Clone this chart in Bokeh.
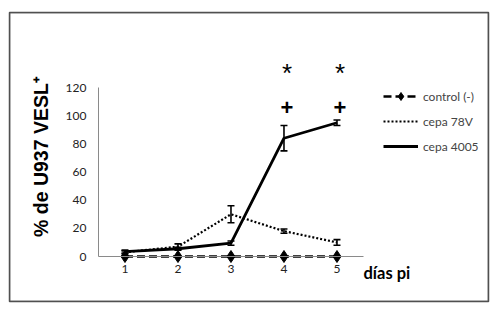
import math
from bokeh.plotting import figure
from bokeh.models import (Range1d, Legend, LegendItem, Whisker, TeeHead, Label,
                          ColumnDataSource, FixedTicker, BoxAnnotation)
from bokeh.core.properties import value
from bokeh.embed import file_html
from bokeh.resources import INLINE

# ---- data ----
days = [1, 2, 3, 4, 5]
control = [0, 0, 0, 0, 0]
cepa_78v = [3, 7, 30, 18, 10]
err_78v = [1, 2, 6, 1.5, 2]
cepa_4005 = [3.5, 5.5, 9.5, 84, 95]
err_4005 = [1, 1, 1.5, 9, 2]
sig_days = [4, 5]
star_y = [133.5, 133.5]
plus_y = [105.5, 105.5]
y_ticks = [0, 20, 40, 60, 80, 100, 120]

# frame covers the whole boxed area; axes are fixed inside it
p = figure(width=490, height=303, output_backend="svg", toolbar_location=None,
           x_range=Range1d(-1.179, 7.859), y_range=Range1d(-31.96, 173.3),
           min_border_left=9, min_border_right=2, min_border_top=12,
           min_border_bottom=2)
p.outline_line_color = "#505050"
p.outline_line_width = 1.5
p.xgrid.visible = False
p.ygrid.visible = False
p.add_layout(BoxAnnotation(fill_alpha=0, line_color="#505050", line_width=1.5,
                           line_alpha=1))

lbl_font = "Lato"
for ax in (p.xaxis, p.yaxis):
    ax.axis_line_color = "#8a8a8a"
    ax.axis_line_width = 1
    ax.major_tick_line_color = None
    ax.minor_tick_line_color = None
    ax.major_tick_out = 0
    ax.major_tick_in = 0
    ax.major_label_text_font = lbl_font
    ax.major_label_text_font_size = "12px"
    ax.major_label_text_color = "#222222"

p.xaxis.bounds = (0.5, 5.5)
p.xaxis.fixed_location = 0
p.xaxis.ticker = FixedTicker(ticks=days)
p.xaxis.major_label_standoff = 8
p.yaxis.bounds = (0, 120)
p.yaxis.fixed_location = 0.5
p.yaxis.ticker = FixedTicker(ticks=y_ticks)
p.yaxis.major_label_standoff = 12

src = ColumnDataSource(dict(
    x=days, control=control, v78=cepa_78v, v4005=cepa_4005,
    v78_lo=[v - e for v, e in zip(cepa_78v, err_78v)],
    v78_hi=[v + e for v, e in zip(cepa_78v, err_78v)],
    v4005_lo=[v - e for v, e in zip(cepa_4005, err_4005)],
    v4005_hi=[v + e for v, e in zip(cepa_4005, err_4005)],
))

r78 = p.line("x", "v78", source=src, line_color="black", line_width=2.2,
             line_dash="2 2")
r4005 = p.line("x", "v4005", source=src, line_color="black", line_width=2.8)
for lo, hi in (("v78_lo", "v78_hi"), ("v4005_lo", "v4005_hi")):
    w = Whisker(base="x", lower=lo, upper=hi, source=src, line_color="black",
                line_width=1.6,
                upper_head=TeeHead(size=7, line_color="black", line_width=1.6),
                lower_head=TeeHead(size=7, line_color="black", line_width=1.6))
    p.add_layout(w)
rc = p.line("x", "control", source=src, line_color="black", line_width=2.4,
            line_dash="8 4")
rcm = p.scatter("x", "control", source=src, marker="diamond", size=12,
                fill_color="black", line_color="black")

p.text(x=sig_days, y=star_y, text=["*", "*"], text_align="center",
       text_baseline="middle", text_font=value("Liberation Sans"),
       text_font_size="26px", text_color="black", x_offset=3, y_offset=4)
p.text(x=sig_days, y=plus_y, text=["+", "+"], text_align="center",
       text_baseline="middle", text_font=value("Liberation Sans"),
       text_font_size="22px", text_font_style="bold", text_color="black",
       x_offset=3)

# axis titles
p.add_layout(Label(x=-0.585, y=71.0, text="% de U937 VESL\u207a", angle=math.pi / 2,
                   text_align="center", text_baseline="middle",
                   text_font="Liberation Sans", text_font_style="bold",
                   text_font_size="19.5px", text_color="black"))
p.add_layout(Label(x=5.5, y=-11.5, text="días pi", text_align="left",
                   text_baseline="alphabetic", text_font="Lato",
                   text_font_style="bold", text_font_size="16.5px",
                   text_color="black"))

legend = Legend(items=[
    LegendItem(label="control (-)", renderers=[rc, rcm]),
    LegendItem(label="cepa 78V", renderers=[r78]),
    LegendItem(label="cepa 4005", renderers=[r4005]),
], location=(374, 145), padding=0, margin=0, spacing=5,
    label_height=20, glyph_height=20, glyph_width=35, label_standoff=5,
    label_text_font="Lato", label_text_font_size="12px",
    border_line_color=None, background_fill_alpha=0)
p.add_layout(legend)

open("out.html", "w").write(file_html(p, INLINE))
